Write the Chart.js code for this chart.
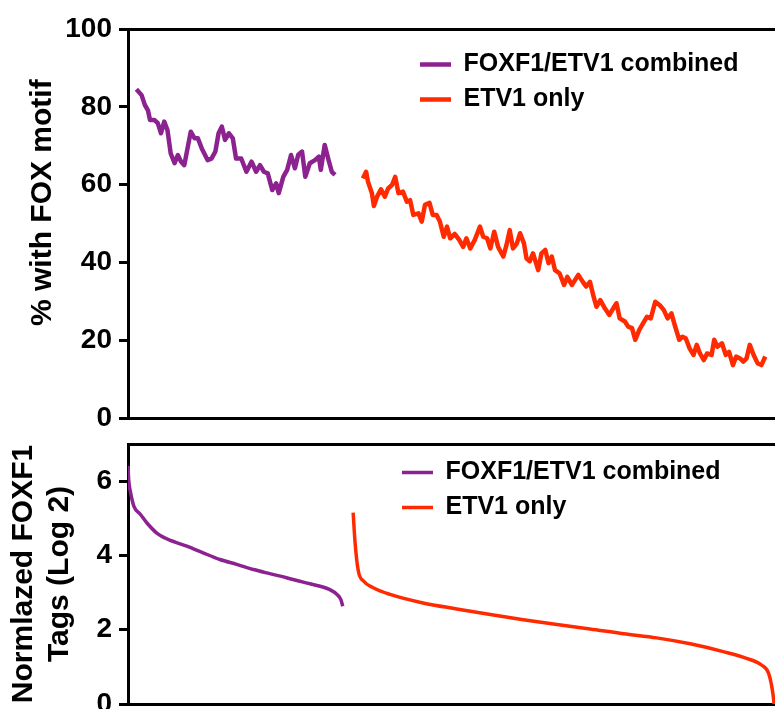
<!DOCTYPE html>
<html>
<head>
<meta charset="utf-8">
<script src="https://cdn.jsdelivr.net/npm/chart.js@4.4.1/dist/chart.umd.min.js"></script>
<style>
  body { margin: 0; background: #fff; }
  #wrap { position: relative; width: 775px; height: 709px; overflow: hidden; }
  canvas { position: absolute; left: 0; }
  #motif { top: 0; }
  #tags { top: 430px; }
</style>
</head>
<body>
<div id="wrap">
  <canvas id="motif" width="775" height="430"></canvas>
  <canvas id="tags" width="775" height="279"></canvas>
</div>
<script>
const seriesNames = ['FOXF1/ETV1 combined', 'ETV1 only'];
const seriesColors = ['#8b2290', '#ff2a00'];
const motifTicks = [0, 20, 40, 60, 80, 100];
const tagTicks = [0, 2, 4, 6];

// x = rank position along the peak list (0-100), y = % with FOX motif
const motifComboX = [1.3, 2.1, 2.6, 3.1, 3.4, 4.1, 4.6, 5.1, 5.6, 6.1, 6.6, 7.2, 7.7, 8.2, 8.7, 9.2, 9.7, 10.3, 10.8, 11.4,
  12.3, 12.9, 13.5, 14.0, 14.5, 15.0, 15.6, 16.2, 16.7, 17.5, 18.3, 19.1, 19.8, 20.4, 21.0, 21.6, 22.3, 22.9, 23.3, 24.0,
  24.6, 25.2, 25.8, 26.3, 26.9, 27.4, 28.1, 28.9, 29.5, 29.8, 30.4, 31.0, 31.5, 32.0];
const motifComboY = [84.5, 83, 80.5, 79, 76.6, 76.6, 75.8, 73.2, 76.2, 74, 68, 65.5, 67.6, 65.9, 65, 69.3, 73.6, 71.9, 71.9, 69.3,
  66.3, 66.7, 68.5, 73.2, 74.9, 71.5, 73.2, 71.9, 66.7, 66.7, 63.3, 65.9, 63.3, 65, 63.3, 62.9, 58.6, 60.3, 57.8, 62,
  63.8, 67.6, 64.2, 67.6, 68.5, 62, 65.5, 66.3, 67.2, 63.8, 70.2, 66.3, 63.3, 62.5];

const motifEtvX = [36.3, 36.8, 37.1, 37.7, 38.0, 38.5, 39.1, 39.7, 40.2, 40.8, 41.3, 41.8, 42.5, 43.1, 43.6, 44.1, 44.9, 45.4, 45.9, 46.6,
  47.1, 47.7, 48.2, 48.8, 49.3, 49.8, 50.5, 51.2, 51.8, 52.3, 52.9, 53.6, 54.4, 54.9, 55.5, 56.0, 56.6, 57.2, 58.0, 58.5,
  59.0, 59.5, 60.1, 60.6, 61.2, 61.6, 62.1, 62.6, 63.4, 63.9, 64.5, 65.0, 65.5, 66.0, 66.7,
  67.4, 67.9, 68.6, 69.6, 70.3, 70.8, 71.4, 71.9, 72.4, 73.0, 73.7, 74.4, 75.0, 75.5, 76.0, 76.8, 77.3, 77.9, 78.4, 79.0,
  79.6, 80.2, 80.8, 81.5, 82.2, 82.8, 83.4, 84.0, 84.5, 85.2, 85.7, 86.2, 86.8, 87.4, 87.9, 88.4, 89.0, 89.5, 90.2, 90.6,
  91.1, 91.8, 92.4, 92.9, 93.5, 94.0, 94.6, 95.1, 95.6, 96.1, 96.7, 97.3, 97.9, 98.5];
const motifEtvY = [61.6, 63.3, 60.7, 57.8, 54.5, 56.9, 58.8, 56.9, 59, 59.9, 62, 57.8, 58.2, 55.6, 56, 52.2, 52.6, 50.5, 54.8, 55.3,
  52.2, 52.2, 50.5, 46.6, 49.2, 46.2, 47.3, 45.8, 44, 46.2, 43.6, 45.8, 49.2, 46.6, 46.2, 43.6, 47.9, 44, 41.5, 44.5,
  48.3, 43.6, 44.9, 47.5, 44.9, 41, 40.3, 42.3, 38, 42.3, 43.2, 39.8, 41.5, 38, 37.2,
  34.2, 36.3, 34.2, 36.8, 35, 33.8, 35, 31.6, 28.6, 30.3, 28.2, 26.5, 28.2, 29.5, 25.6, 24.8, 23.5, 23.1, 20.1, 22.6,
  24.3, 26, 25.6, 29.9, 29, 27.8, 25.6, 26.9, 23.9, 20.1, 20.9, 20.5, 17.9, 16.2, 18.8, 16.6, 14.9, 16.6, 16.2, 20.1,
  18.3, 19.2, 16.2, 17, 13.6, 15.8, 15.3, 14.5, 15.3, 18.8, 16.2, 14.1, 13.6, 15.8];

// normalized FOXF1 tags (log2) along the same rank axis
const tagComboX = [0, 0.1, 0.4, 0.9, 1.9, 2.9, 4.4, 6.2, 9.1, 11.6, 14.2, 16.8, 19.4, 21.9, 24.5, 27.1, 29.7, 31.2, 32.3, 32.9, 33.2];
const tagComboY = [6.41, 6.05, 5.69, 5.33, 5.11, 4.88, 4.61, 4.43, 4.25, 4.07, 3.89, 3.76, 3.62, 3.51, 3.40, 3.28, 3.17, 3.08, 2.95, 2.81, 2.63];
const tagEtvX = [34.8, 35.1, 35.6, 36.4, 37.9, 40.5, 45.6, 50.8, 56.0, 61.1, 66.3, 71.4, 76.6, 81.7, 86.9, 92.0, 95.6, 97.9, 99.0, 99.5, 99.8, 99.85];
const tagEtvY = [5.15, 4.34, 3.58, 3.31, 3.13, 2.95, 2.72, 2.56, 2.41, 2.27, 2.14, 2.02, 1.89, 1.78, 1.62, 1.41, 1.23, 1.05, 0.83, 0.47, 0.11, 0];

Chart.defaults.font.family = '"Liberation Sans", Arial, sans-serif';
Chart.defaults.color = '#000';

function pts(xs, ys) {
  return xs.map((x, i) => ({ x: x, y: ys[i] }));
}

// move the legend into the plot, top right
function placeLegend(x, y) {
  return {
    id: 'placeLegend',
    afterLayout(chart) {
      const lg = chart.legend;
      lg.left = x;
      lg.right = x + 360;
      lg.top = y;
      lg.bottom = y + 200;
    }
  };
}

function yScale(min, max, ticks, title, titlePad) {
  return {
    type: 'linear',
    position: 'left',
    min: min,
    max: max,
    afterFit: s => { s.width = 128; s.paddingTop = 0; s.paddingBottom = 0; },
    afterBuildTicks: s => { s.ticks = ticks.map(v => ({ value: v })); },
    border: { display: true, color: '#000', width: 3 },
    grid: { drawOnChartArea: false, drawTicks: true, tickLength: 9, tickWidth: 3, lineWidth: 3, color: '#000' },
    ticks: { padding: 7, color: '#000', font: { size: 28, weight: 'bold' } },
    title: { display: true, text: title, color: '#000', font: { size: 30, weight: 'bold', lineHeight: 1.2 }, padding: { top: titlePad, bottom: 0 } }
  };
}

function xScale(pos, h) {
  return {
    type: 'linear',
    position: pos,
    min: 0,
    max: 100,
    afterFit: s => { s.height = h; s.paddingLeft = 0; s.paddingRight = 0; },
    grid: { display: false },
    ticks: { display: false },
    border: { display: true, color: '#000', width: 3 }
  };
}

function legendOpts() {
  return {
    position: 'chartArea',
    align: 'start',
    labels: {
      usePointStyle: true,
      pointStyle: 'line',
      pointStyleWidth: 31,
      padding: 10,
      color: '#000',
      font: { size: 25, weight: 'bold' }
    }
  };
}

function lineSet(i, xs, ys, width, smooth) {
  return {
    label: seriesNames[i],
    data: pts(xs, ys),
    borderColor: seriesColors[i],
    backgroundColor: seriesColors[i],
    borderWidth: width,
    pointRadius: 0,
    pointHoverRadius: 0,
    pointStyle: 'line',
    fill: false,
    borderJoinStyle: 'round',
    tension: smooth ? 0.4 : 0,
    cubicInterpolationMode: smooth ? 'monotone' : 'default'
  };
}

new Chart(document.getElementById('motif'), {
  type: 'line',
  data: {
    datasets: [
      lineSet(0, motifComboX, motifComboY, 4.5, false),
      lineSet(1, motifEtvX, motifEtvY, 4.5, false)
    ]
  },
  options: {
    responsive: false,
    animation: false,
    events: [],
    layout: { padding: 0 },
    scales: {
      x: xScale('bottom', 12),
      x2: xScale('top', 29),
      y: yScale(0, 100, motifTicks, '     % with FOX motif', 25)
    },
    plugins: { legend: legendOpts(), tooltip: { enabled: false } }
  },
  plugins: [placeLegend(410, 42)]
});

new Chart(document.getElementById('tags'), {
  type: 'line',
  data: {
    datasets: [
      lineSet(0, tagComboX, tagComboY, 3.5, true),
      lineSet(1, tagEtvX, tagEtvY, 3.5, true)
    ]
  },
  options: {
    responsive: false,
    animation: false,
    events: [],
    layout: { padding: 0 },
    scales: {
      x: xScale('bottom', 5),
      x2: xScale('top', 14),
      y: yScale(0, 7, tagTicks, ['Normlazed FOXF1', 'Tags (Log 2)'], 6)
    },
    plugins: { legend: legendOpts(), tooltip: { enabled: false } }
  },
  plugins: [placeLegend(392, 20)]
});
</script>
</body>
</html>
